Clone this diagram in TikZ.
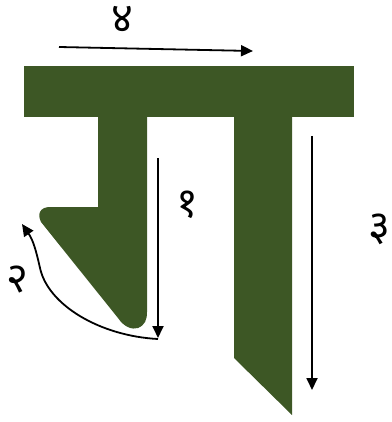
\documentclass[tikz,border=0pt]{standalone}
\usepackage{fontspec}
\newfontfamily\deva[Script=Devanagari]{Noto Sans}
\usetikzlibrary{arrows.meta}
\definecolor{letgreen}{RGB}{61,87,37}
\tikzset{
  stroke/.style={fill=letgreen,draw=none},
  seq/.style={draw=black,line width=1.8pt,-{Triangle[length=12pt,width=11pt]}},
  num/.style={font=\deva\fontsize{42}{42}\selectfont,inner sep=0pt}
}
\begin{document}
\begin{tikzpicture}[x=1pt,y=-1pt]
\useasboundingbox (0,0) rectangle (391,422);
% top bar
\fill[stroke] (24,66) rectangle (354,117);
% left stem with flag
\fill[stroke] (98,116) -- (98,207) -- (50,207)
  .. controls (40,207) and (37,214) .. (41,222)
  -- (118,318) .. controls (124,327) and (132,330) .. (138,328)
  .. controls (145,325) and (147,320) .. (147,312) -- (147,116) -- cycle;
% right stem
\fill[stroke] (234,116) -- (234,358) -- (292,415) -- (292,116) -- cycle;
% arrows
\coordinate (a4s) at (59,47); \coordinate (a4e) at (253,51);
\draw[seq] (a4s) -- (a4e);
\node[num] (n4) at (122,19) {४};
\coordinate (a1s) at (158,158); \coordinate (a1e) at (158,338);
\draw[seq] (a1s) -- (a1e);
\node[num] (n1) at (187,205) {१};
\coordinate (a2s) at (158,339); \coordinate (a2e) at (22,224);
\draw[seq] (a2s) .. controls (100,336) and (48,305) .. (40,268)
  .. controls (36,250) and (33,240) .. (a2e);
\node[num] (n2) at (17,280) {२};
\coordinate (a3s) at (312,136); \coordinate (a3e) at (312,390);
\draw[seq] (a3s) -- (a3e);
\node[num] (n3) at (379,229) {३};
\end{tikzpicture}
\end{document}
